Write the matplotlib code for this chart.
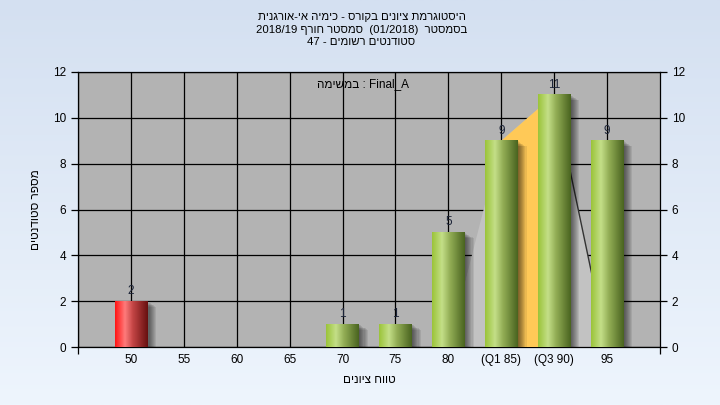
import re
import numpy as np
import matplotlib
matplotlib.use('Agg')
import matplotlib.pyplot as plt
import matplotlib.transforms as mtransforms
from matplotlib.patches import Rectangle, Polygon
from matplotlib.colors import LinearSegmentedColormap

# data
grades = ['50', '55', '60', '65', '70', '75', '80', '(Q1 85)', '(Q3 90)', '95']
students = [2, 0, 0, 0, 1, 1, 5, 9, 11, 9]
failing = [True, False, False, False, False, False, False, False, False, False]
q1_idx = 7
q3_idx = 8

title_lines = ['היסטוגרמת ציונים בקורס - כימיה אי-אורגנית',
               'בסמסטר  (01/2018)  סמסטר חורף 2018/19',
               'סטודנטים רשומים - 47']
task_text = 'Final_A : במשימה'
xlabel = 'טווח ציונים'
ylabel = 'מספר סטודנטים'

FONT = ['Liberation Sans', 'DejaVu Sans']
plt.rcParams['font.family'] = FONT


def rtl(s):
    # matplotlib has no bidi, so build the visual order by hand
    s = s[::-1]
    s = re.sub(r'[0-9A-Za-z_/.]+(?:[0-9A-Za-z_/. ]*[0-9A-Za-z_/.])?',
               lambda m: m.group(0)[::-1], s)
    return s.translate(str.maketrans('()', ')('))


fig = plt.figure(figsize=(7.2, 4.05), dpi=100)

# background gradient
bg = fig.add_axes([0, 0, 1, 1], zorder=-10)
bg_cmap = LinearSegmentedColormap.from_list('bg', ['#d4e0f1', '#eef5fd'])
bg.imshow(np.linspace(0, 1, 256).reshape(-1, 1), cmap=bg_cmap, aspect='auto',
          extent=(0, 1, 0, 1), origin='upper')
bg.axis('off')

ax = fig.add_axes([78 / 720, 1 - 347 / 405, 582 / 720, 275 / 405])
ax.set_facecolor('#b3b3b3')

# grid
for x in range(-1, len(grades)):
    ax.axvline(x, color='black', lw=0.9, zorder=1)
for y in range(0, 13, 2):
    ax.axhline(y, color='black', lw=0.9, zorder=1)

# quartile area behind bars
c1, c3 = students[q1_idx], students[q3_idx]
ax.add_patch(Polygon([(q1_idx - 1, 0), (q1_idx, c1), (q3_idx, c3), (q3_idx + 1, 0)],
                     closed=True, facecolor='#c2c2c2', edgecolor='none', zorder=2))
ax.add_patch(Polygon([(q1_idx, 0), (q1_idx, c1), (q3_idx, c3), (q3_idx, 0)],
                     closed=True, facecolor='#ffc957', edgecolor='none', zorder=3))
ax.plot([q3_idx, q3_idx + 1], [c3, 0], color='#333333', lw=1.0, zorder=3)

green = LinearSegmentedColormap.from_list(
    'g', [(0, '#9bc43a'), (0.3, '#c4df88'), (0.55, '#92ad55'), (1, '#4a6420')])
red = LinearSegmentedColormap.from_list(
    'r', [(0, '#ff1515'), (0.3, '#ff7b7b'), (0.55, '#c24444'), (1, '#681010')])
grad = np.linspace(0, 1, 64).reshape(1, -1)

w = 0.62
for i, (v, bad) in enumerate(zip(students, failing)):
    if v == 0:
        continue
    x0 = i - w / 2
    # soft shadow
    for k in range(1, 9):
        off = mtransforms.ScaledTranslation(k * 0.8 / 72, -k * 0.5 / 72, fig.dpi_scale_trans)
        ax.add_patch(Rectangle((x0, 0), w, v, facecolor='black', alpha=0.08,
                               edgecolor='none', transform=ax.transData + off, zorder=4))
    ax.imshow(grad, cmap=red if bad else green, aspect='auto',
              extent=(x0, x0 + w, 0, v), zorder=5)
    ax.annotate(str(v), (i, v), xytext=(0, 3), textcoords='offset points',
                ha='center', va='bottom', fontsize=8.5, color='#1c2438', zorder=6)

ax.set_xlim(-1, len(grades))
ax.set_ylim(0, 12)

ax.set_xticks(range(len(grades)))
ax.set_xticklabels(grades, fontsize=8.5)
ax.set_xticks([-1, len(grades)], minor=True)
ax.set_yticks(range(0, 13, 2))
ax.tick_params(axis='y', labelsize=8.5, length=5, width=0.9, right=True, labelright=True)
ax.tick_params(axis='x', which='major', length=0, pad=5)
ax.tick_params(axis='x', which='minor', length=5, width=0.9)
for s in ax.spines.values():
    s.set_color('black')
    s.set_linewidth(0.9)

ax.set_xlabel(rtl(xlabel), fontsize=8.5, labelpad=6)
ax.set_ylabel(rtl(ylabel), fontsize=8.5, labelpad=8)

fig.text(0.502, 1 - 12 / 405, '\n'.join(rtl(t) for t in title_lines),
         ha='center', va='top', fontsize=8.2, linespacing=1.32)
ax.text(0.49, 0.955, rtl(task_text), transform=ax.transAxes, ha='center', va='center',
        fontsize=8.5, zorder=7)

fig.savefig('out.png', dpi=100)
